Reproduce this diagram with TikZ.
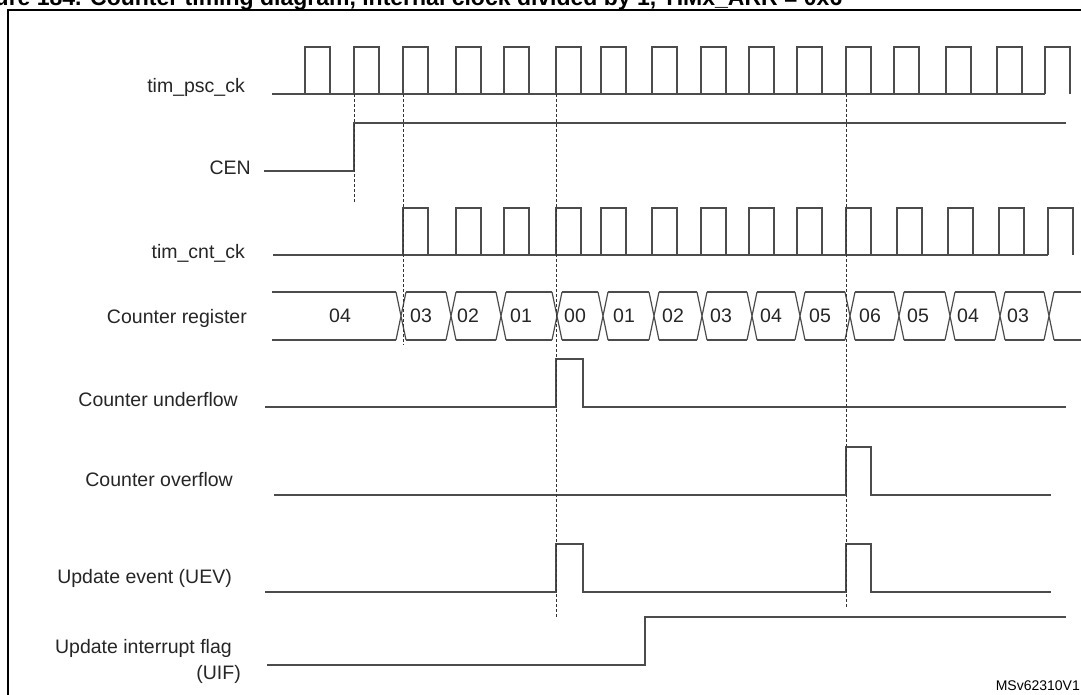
\documentclass[tikz,border=0pt]{standalone}
\usepackage{fontspec}
\setmainfont{Liberation Sans}
\begin{document}
\begin{tikzpicture}[x=1pt,y=-1pt,
  sig/.style={line width=1.2pt,draw=black!70},
  dsh/.style={line width=0.9pt,draw=black!80,dash pattern=on 3pt off 2pt},
  lbl/.style={anchor=east,inner sep=0pt,font=\fontsize{19.5}{21}\selectfont,text=black!85},
  val/.style={inner sep=0pt,font=\fontsize{19.5}{21}\selectfont,text=black!85}]
\clip (0,0) rectangle (1081,694);
\useasboundingbox (0,0) rectangle (1081,694);
\fill[white] (0,0) rectangle (1081,694);
\node[anchor=base west,inner sep=0pt,font=\bfseries\fontsize{23}{24}\selectfont] (title) at (-40,5) {Figure 184. Counter timing diagram, internal clock divided by 1, TIMx\_ARR = 0x6};
\draw[line width=1.6pt] (8,10) rectangle (1100,710);
% labels
\node[lbl] (l1) at (245,87) {tim\_psc\_ck};
\node[lbl] (l2) at (251,168) {CEN};
\node[lbl] (l3) at (245,253) {tim\_cnt\_ck};
\node[lbl] (l4) at (247,318) {Counter register};
\node[lbl] (l5) at (238,400) {Counter underflow};
\node[lbl] (l6) at (233,480) {Counter overflow};
\node[lbl] (l7) at (232,578) {Update event (UEV)};
\node[lbl] (l8) at (232,648) {Update interrupt flag};
\node[lbl] (l9) at (241,674) {(UIF)};
\node[anchor=south east,inner sep=1pt,font=\fontsize{14}{15}\selectfont] (id) at (1081,692) {MSv62310V1};
% psc clock
\draw[sig] (272,94) -- (1045,94);
\foreach \r in {305,354,403,456,504,556,601,652,701,749,797,846,894,946,997,1045}
  \draw[sig] (\r,94) -- (\r,47) -- ({\r+25},47) -- ({\r+25},94);
% CEN
\draw[sig] (264,171) -- (354,171) -- (354,123) -- (1066,123);
% cnt clock
\draw[sig] (273,255) -- (1048,255);
\foreach \r in {403,456,504,556,601,652,701,749,797,846,897,948,999,1048}
  \draw[sig] (\r,255) -- (\r,208) -- ({\r+25},208) -- ({\r+25},255);
% counter register
\def\ty{292}\def\by{340}
\draw[sig] (272,\ty) -- (396,\ty) (272,\by) -- (396,\by);
\foreach \t/\n in {401/451,451/501,501/557,557/603,603/654,654/702,702/752,752/800,800/850,850/899,899/950,950/1000,1000/1049,1049/1090}{
  \draw[sig] ({\t-5},\ty) -- ({\t+5},\by) ({\t-5},\by) -- ({\t+5},\ty);
  \draw[sig] ({\t+5},\ty) -- ({\n-5},\ty) ({\t+5},\by) -- ({\n-5},\by);
}
\node[val] (v0) at (340,316) {04};
\foreach \x/\v [count=\i] in {421/03,468/02,521/01,575/00,624/01,673/02,721/03,771/04,820/05,870/06,918/05,968/04,1018/03}
  \node[val] (v\i) at (\x,316) {\v};
% underflow
\draw[sig] (265,407) -- (556,407) -- (556,359) -- (583,359) -- (583,407) -- (1066,407);
% overflow
\draw[sig] (274,495) -- (846,495) -- (846,447) -- (871,447) -- (871,495) -- (1051,495);
% UEV
\draw[sig] (265,592) -- (556,592) -- (556,544) -- (583,544) -- (583,592) -- (846,592) -- (846,544) -- (871,544) -- (871,592) -- (1051,592);
% UIF
\draw[sig] (267,665) -- (645,665) -- (645,617) -- (1066,617);
% dashed
\draw[dsh] (354,94) -- (354,203);
\draw[dsh] (403,94) -- (403,345);
\draw[dsh] (556,94) -- (556,617);
\draw[dsh] (846,94) -- (846,607);
\end{tikzpicture}
\end{document}
